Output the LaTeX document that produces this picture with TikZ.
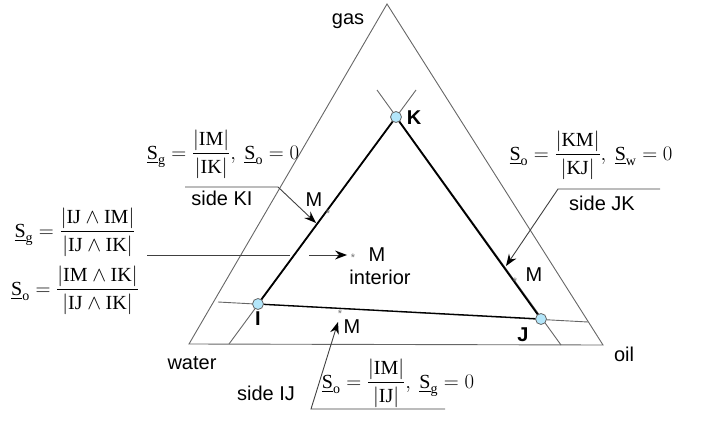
\documentclass[tikz,border=0pt]{standalone}
\usepackage{amsmath}
\usepackage{fontspec}
\setmainfont{Liberation Serif}
\newfontfamily\arial{Liberation Sans}
\usetikzlibrary{calc}
\newcommand{\myhead}[2]{\fill[headfill] (#1) -- ($(#1)!12pt!(#2)!4.5pt!90:(#2)$) -- ($(#1)!8pt!(#2)$) -- ($(#1)!12pt!(#2)!4.5pt!-90:(#2)$) -- cycle;}
\begin{document}
\begin{tikzpicture}[x=1pt,y=1pt,
  outer/.style={draw=black!60, line width=0.9pt},
  ext/.style={draw=black!60, line width=0.9pt},
  sidethick/.style={draw=black, line width=1.8pt},
  sidemed/.style={draw=black, line width=1.3pt},
  lead/.style={draw=black!75, line width=0.9pt},
  headfill/.style={fill=black},
  vtx/.style={circle, draw=black!60, fill=cyan!30!white, line width=0.8pt, minimum size=11pt, inner sep=0pt},
  lab/.style={font=\arial\fontsize{20}{22}\selectfont, inner sep=0pt},
  blab/.style={font=\arial\bfseries\fontsize{20}{22}\selectfont, inner sep=0pt},
  frm/.style={font=\fontsize{20}{23}\selectfont, inner sep=0pt},
  starmark/.style={font=\arial\fontsize{11}{11}\selectfont, text=black!55, inner sep=0pt}
]
\useasboundingbox (0,0) rectangle (703,-422);
% outer triangle
\coordinate (G) at (387,-4);
\coordinate (W) at (189,-344);
\coordinate (O) at (603,-345);
\draw[outer] (G) -- (W) -- (O) -- cycle;
% inner triangle vertices
\coordinate (Kp) at (396,-117);
\coordinate (Ip) at (258,-304);
\coordinate (Jp) at (541,-319);
% extension lines
\coordinate (KI1) at (416,-90);
\coordinate (KI2) at (229,-344);
\coordinate (KJ1) at (377,-90);
\coordinate (KJ2) at (561,-345);
\coordinate (IJ1) at (218,-302);
\coordinate (IJ2) at (588,-322);
\draw[ext] (KI1) -- (KI2);
\draw[ext] (KJ1) -- (KJ2);
\draw[ext] (IJ1) -- (IJ2);
\draw[sidethick] (Kp) -- (Ip);
\draw[sidethick] (Kp) -- (Jp);
\draw[sidemed] (Ip) -- (Jp);
\node[vtx] (K) at (Kp) {};
\node[vtx] (I) at (Ip) {};
\node[vtx] (J) at (Jp) {};
\node[blab] (Klab) at (414,-118) {K};
\node[blab] (Ilab) at (258,-319) {I};
\node[blab] (Jlab) at (523,-335) {J};
% corner labels
\node[lab, anchor=base] (gas) at (348,-25) {gas};
\node[lab] (water) at (192,-363) {water};
\node[lab] (oil) at (624,-354) {oil};
% M points
\node[starmark] (Mki) at (328,-214) {*};
\node[starmark] (Mint) at (353,-258) {*};
\node[starmark] (Mij) at (340,-314) {*};
\node[starmark] (Mjk) at (515,-282) {*};
\node[lab] (MkiL) at (314,-200) {M};
\node[lab] (MintL) at (377,-255) {M};
\node[lab] (intL) at (380,-277) {interior};
\node[lab] (MijL) at (352,-327) {M};
\node[lab] (MjkL) at (534,-275) {M};
% side labels
\node[lab] (sKI) at (222,-198) {side KI};
\node[lab] (sJK) at (602,-203) {side JK};
\node[lab] (sIJ) at (266,-393) {side IJ};
% leaders
\coordinate (a1) at (185,-187);
\coordinate (a2) at (278,-187);
\coordinate (a3) at (316,-223);
\draw[lead] (a1) -- (a2) -- ($(a3)!7pt!(a2)$);
\myhead{a3}{a2}
\coordinate (b1) at (660,-189);
\coordinate (b2) at (558,-189);
\coordinate (b3) at (506,-266);
\draw[lead] (b1) -- (b2) -- ($(b3)!7pt!(b2)$);
\myhead{b3}{b2}
\coordinate (c1) at (445,-409);
\coordinate (c2) at (311,-409);
\coordinate (c3) at (338,-322);
\draw[lead] (c1) -- (c2) -- ($(c3)!7pt!(c2)$);
\myhead{c3}{c2}
\coordinate (d1) at (147,-255);
\coordinate (d2) at (290,-255);
\coordinate (d3) at (309,-255);
\coordinate (d4) at (347,-255);
\draw[lead] (d1) -- (d2);
\draw[lead] (d3) -- ($(d4)!7pt!(d3)$);
\myhead{d4}{d3}
% formulas
\node[frm] (fKI) at (223,-154) {$\underline{\text{S}}_{\text{g}} = \dfrac{\lvert\text{IM}\rvert}{\lvert\text{IK}\rvert},\ \underline{\text{S}}_{\text{o}} = 0$};
\node[frm] (fJK) at (591,-155) {$\underline{\text{S}}_{\text{o}} = \dfrac{\lvert\text{KM}\rvert}{\lvert\text{KJ}\rvert},\ \underline{\text{S}}_{\text{w}} = 0$};
\node[frm] (fIJ) at (398,-383) {$\underline{\text{S}}_{\text{o}} = \dfrac{\lvert\text{IM}\rvert}{\lvert\text{IJ}\rvert},\ \underline{\text{S}}_{\text{g}} = 0$};
\node[frm] (fg) at (75,-232) {$\underline{\text{S}}_{\text{g}} = \dfrac{\lvert\text{IJ}\wedge\text{IM}\rvert}{\lvert\text{IJ}\wedge\text{IK}\rvert}$};
\node[frm] (fo) at (75,-290) {$\underline{\text{S}}_{\text{o}} = \dfrac{\lvert\text{IM}\wedge\text{IK}\rvert}{\lvert\text{IJ}\wedge\text{IK}\rvert}$};
\end{tikzpicture}
\end{document}
